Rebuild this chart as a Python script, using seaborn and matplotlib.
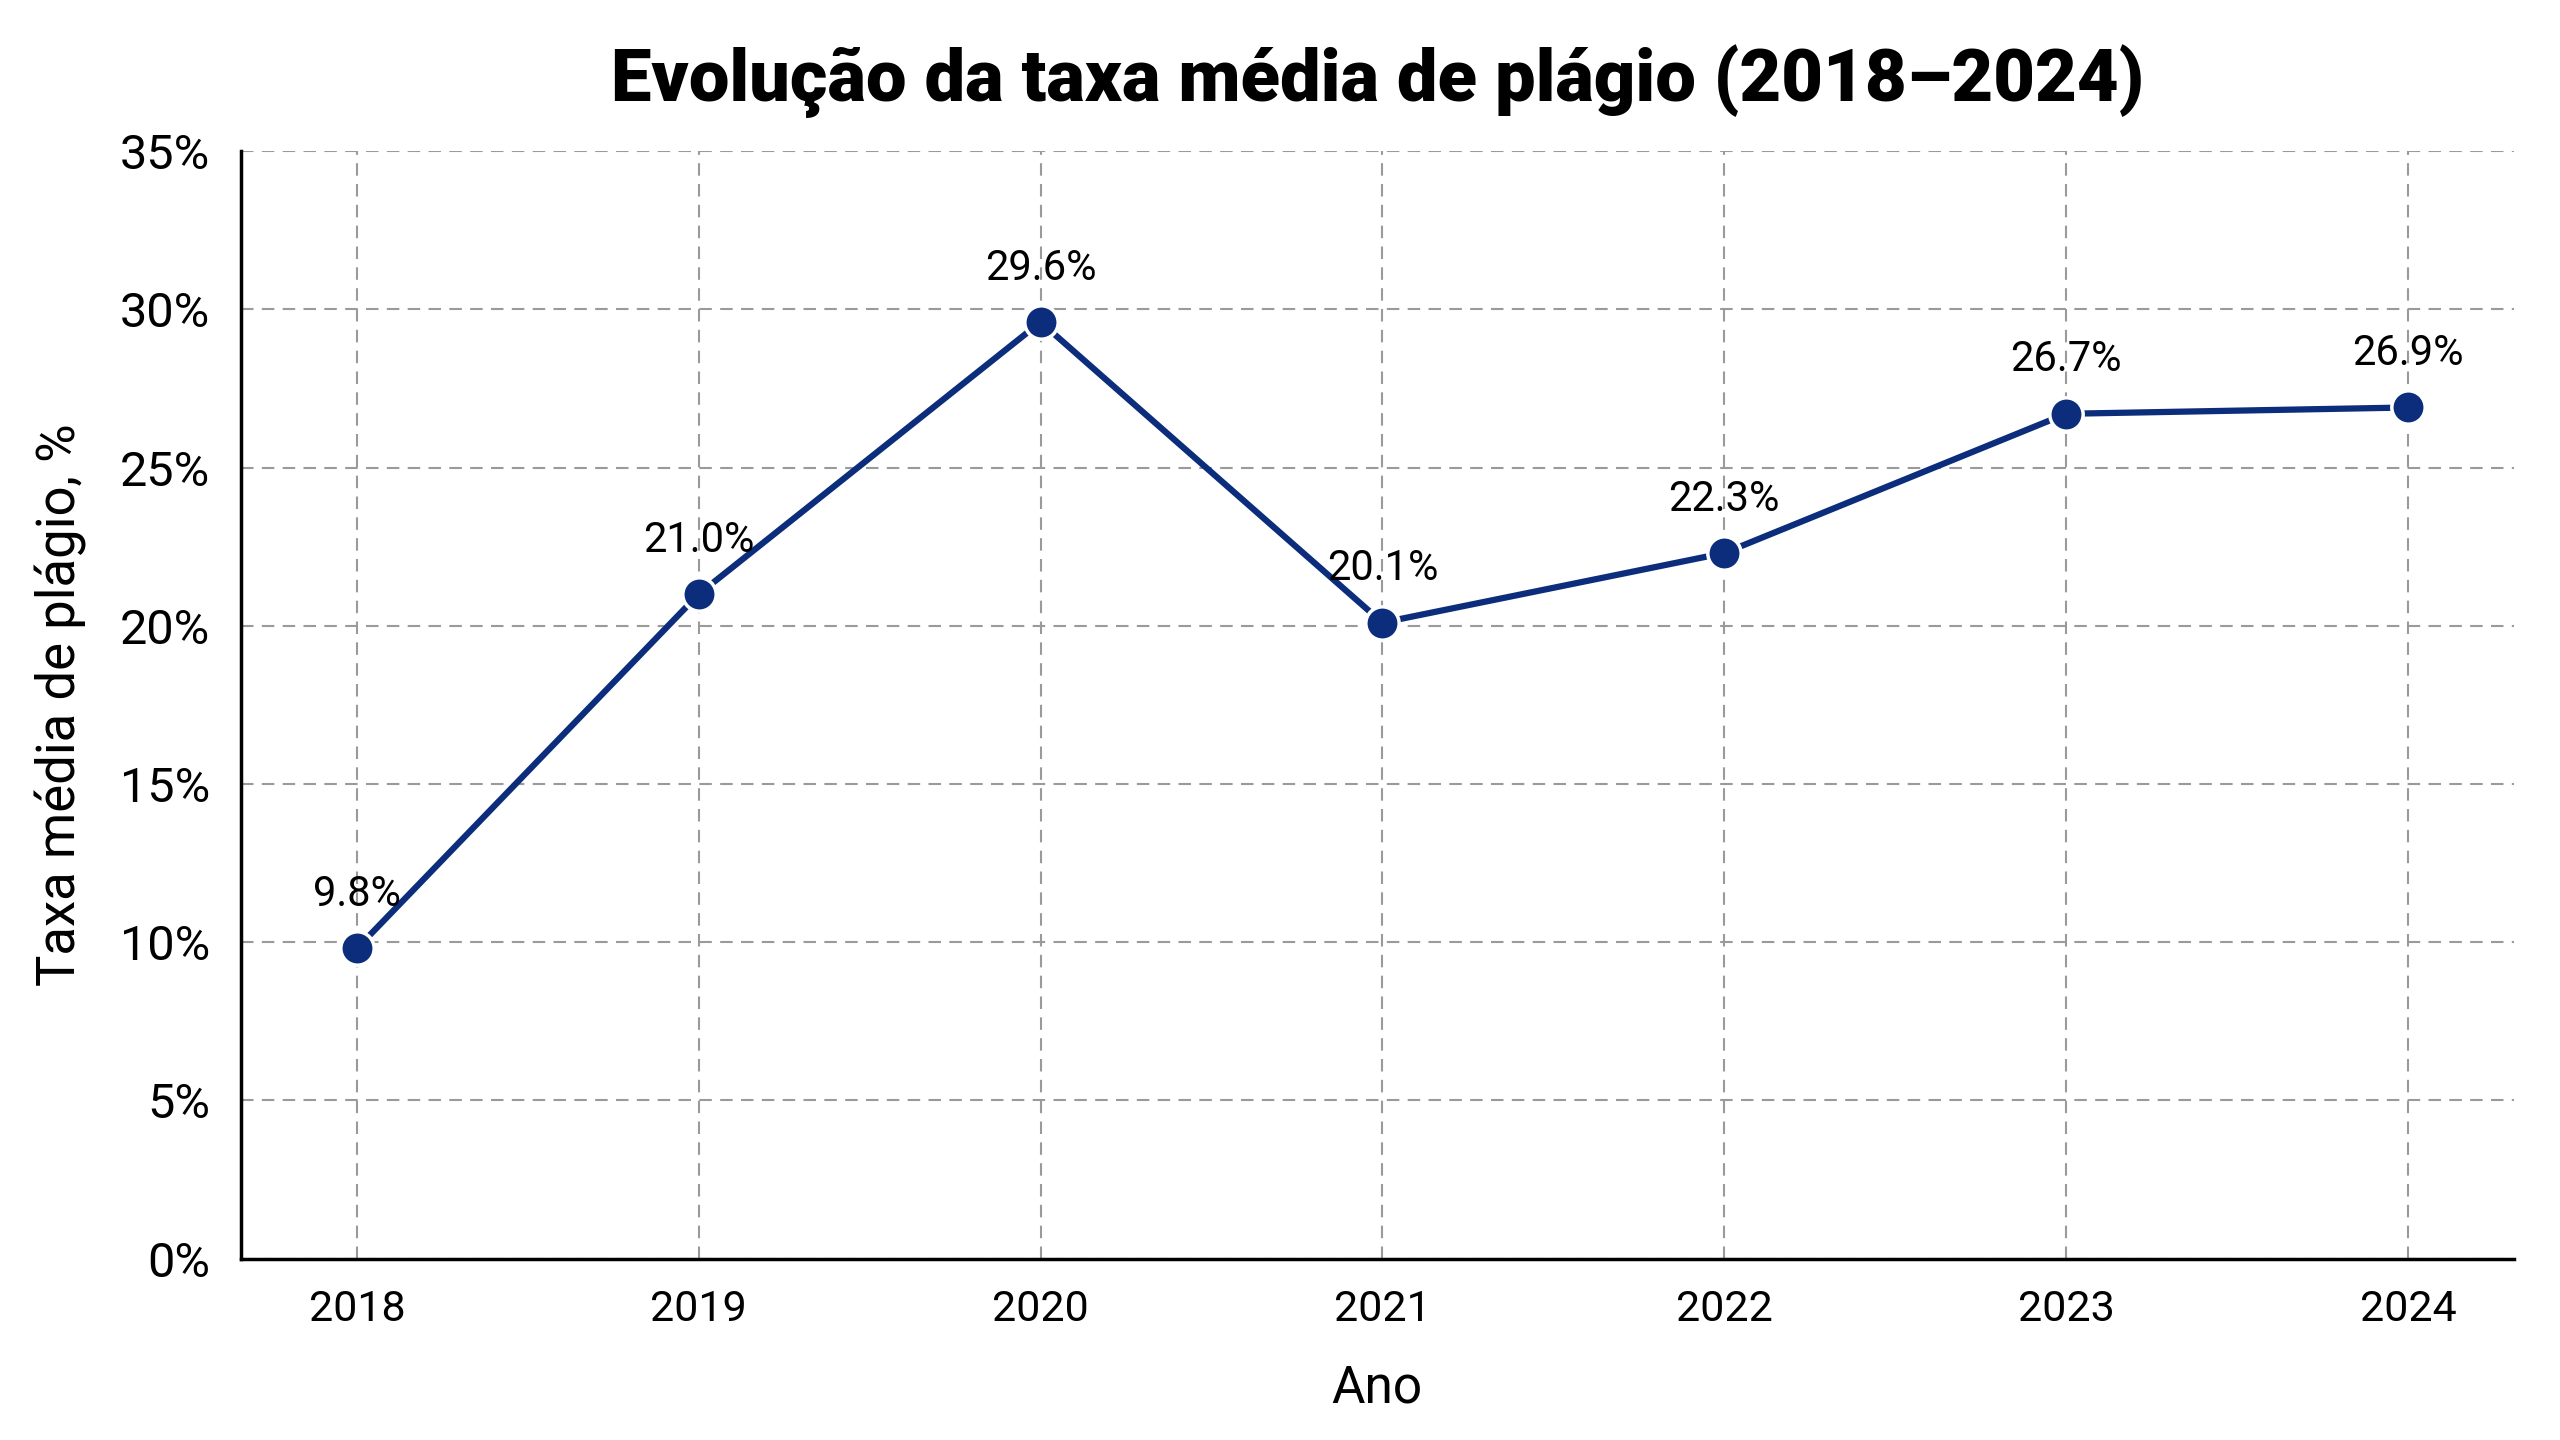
import pandas as pd
import seaborn as sns
import matplotlib.pyplot as plt
from matplotlib.ticker import PercentFormatter

years = [2018, 2019, 2020, 2021, 2022, 2023, 2024]
rates = [9.8, 21.0, 29.6, 20.1, 22.3, 26.7, 26.9]
labels = ["9.8%", "21.0%", "29.6%", "20.1%", "22.3%", "26.7%", "26.9%"]

df = pd.DataFrame({"Ano": years, "taxa": rates})

sns.set_style("white")
plt.rcParams["font.family"] = ["Roboto", "DejaVu Sans"]
plt.rcParams["text.color"] = "#000000"
plt.rcParams["xtick.color"] = "#000000"
plt.rcParams["ytick.color"] = "#000000"
plt.rcParams["axes.labelcolor"] = "#000000"

fig, ax = plt.subplots(figsize=(25.6, 14.4), dpi=100)
fig.subplots_adjust(left=0.094, right=0.982, top=0.895, bottom=0.126)

sns.lineplot(data=df, x="Ano", y="taxa", ax=ax, color="#0b2d7c", linewidth=4.5,
             marker="o", markersize=24, markeredgecolor="white", markeredgewidth=2.5)

for x, y, t in zip(years, rates, labels):
    ax.annotate(t, (x, y), xytext=(0, 24), textcoords="offset points",
                ha="center", va="bottom", fontsize=30)

ax.set_xlim(2017.66, 2024.31)
ax.set_ylim(0, 35)
ax.set_xticks(years)
ax.set_yticks(range(0, 36, 5))
ax.yaxis.set_major_formatter(PercentFormatter(decimals=0))
ax.tick_params(axis="x", labelsize=31, length=10, width=2, pad=12)
ax.tick_params(axis="y", labelsize=35, length=10, width=2, pad=12)

ax.grid(True, linestyle="--", color="#9a9a9a", linewidth=1.5, dashes=(6, 4))
ax.set_axisbelow(True)
sns.despine(ax=ax)
for s in ["left", "bottom"]:
    ax.spines[s].set_linewidth(2.5)
    ax.spines[s].set_color("#000000")

ax.set_title("Evolução da taxa média de plágio (2018–2024)", fontsize=52,
             fontweight="black", pad=36)
ax.set_xlabel("Ano", fontsize=37, labelpad=24)
ax.set_ylabel("Taxa média de plágio, %", fontsize=38, labelpad=24)

plt.savefig("out.png", dpi=100, facecolor="white")
